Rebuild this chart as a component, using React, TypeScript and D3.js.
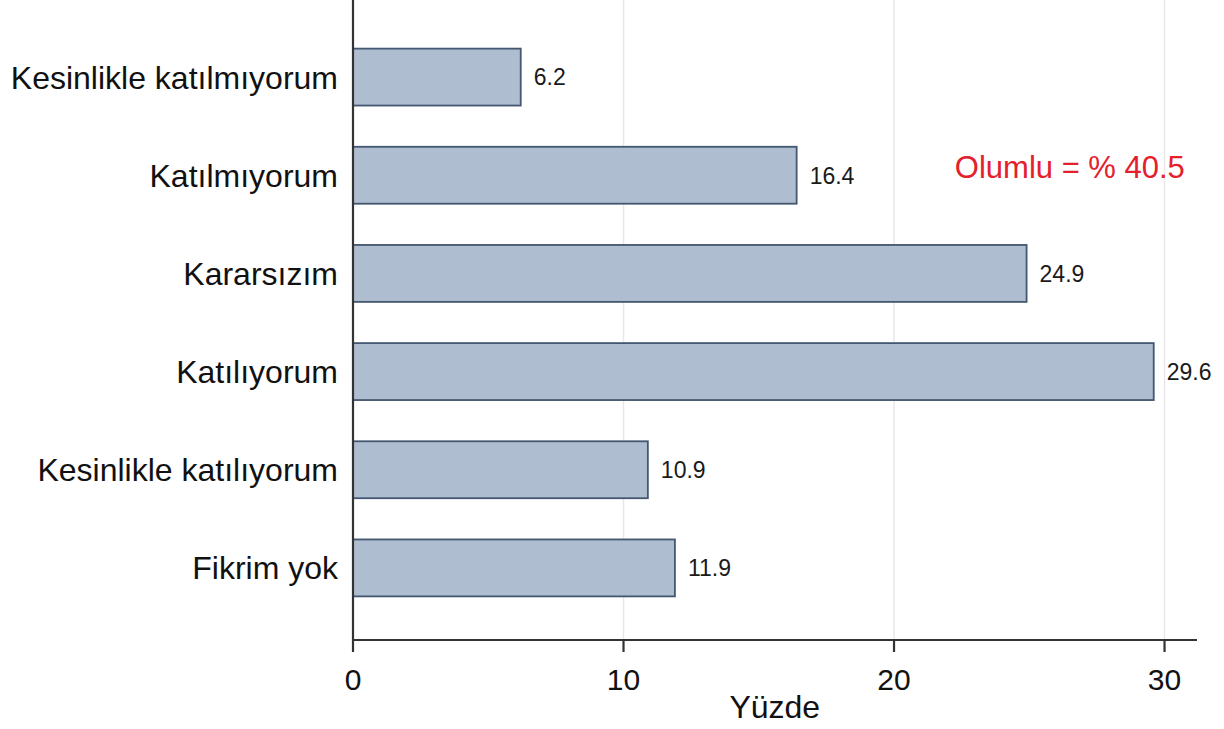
import React from "react";
import * as d3 from "d3";

// survey answers, top to bottom
const categories = [
  "Kesinlikle katılmıyorum",
  "Katılmıyorum",
  "Kararsızım",
  "Katılıyorum",
  "Kesinlikle katılıyorum",
  "Fikrim yok",
];
const percents = [6.2, 16.4, 24.9, 29.6, 10.9, 11.9];
const xTicks = [0, 10, 20, 30];
const xTitle = "Yüzde";
const note = "Olumlu = % 40.5";
const noteAt = { value: 26.5, category: "Katılmıyorum" };

const width = 1224;
const height = 729;
const margin = { top: 28, right: 27, bottom: 89, left: 353 };
const font = "'Liberation Sans', Arial, sans-serif";

const App = () => {
  const axisY = height - margin.bottom;

  // x scale: 0..31.2 percent over the plot width
  const x = d3.scaleLinear().domain([0, 31.2]).range([margin.left, width - margin.right]);

  // band scale for the bars
  const y = d3
    .scaleBand<string>()
    .domain(categories)
    .range([margin.top, axisY - 23])
    .paddingInner(0.42)
    .paddingOuter(0.21);

  return (
    <svg
      width={width}
      height={height}
      style={{ position: "absolute", left: 0, top: 0, background: "#fff" }}
      fontFamily={font}
    >
      {/* vertical grid lines */}
      {xTicks.filter((t) => t > 0).map((t) => (
        <line key={t} x1={x(t)} x2={x(t)} y1={0} y2={axisY} stroke="#e8e8e8" strokeWidth={1.5} />
      ))}

      {/* bars */}
      {categories.map((c, i) => (
        <g key={c}>
          <rect
            x={x(0)}
            y={y(c)}
            width={x(percents[i]) - x(0)}
            height={y.bandwidth()}
            fill="#aebdcf"
            stroke="#435770"
            strokeWidth={1.8}
          />
          <text
            x={x(percents[i]) + 13}
            y={(y(c) ?? 0) + y.bandwidth() / 2}
            dy="0.36em"
            fontSize={23}
            fill="#1a1a1a"
          >
            {percents[i]}
          </text>
          <text
            x={margin.left - 15}
            y={(y(c) ?? 0) + y.bandwidth() / 2}
            dy="0.36em"
            textAnchor="end"
            fontSize={32}
            fill="#111"
          >
            {c}
          </text>
        </g>
      ))}

      {/* axes */}
      <line x1={x(0)} x2={x(0)} y1={0} y2={axisY} stroke="#333" strokeWidth={2.2} />
      <line x1={x(0) - 1} x2={width - margin.right} y1={axisY} y2={axisY} stroke="#333" strokeWidth={2.2} />
      {xTicks.map((t) => (
        <g key={t}>
          <line x1={x(t)} x2={x(t)} y1={axisY} y2={axisY + 12} stroke="#333" strokeWidth={2.2} />
          <text x={x(t)} y={axisY + 50} textAnchor="middle" fontSize={30} fill="#111">
            {t}
          </text>
        </g>
      ))}
      <text x={(x(0) + x(30)) / 2 + 16} y={axisY + 78} textAnchor="middle" fontSize={32} fill="#111">
        {xTitle}
      </text>

      {/* annotation */}
      <text
        x={x(noteAt.value)}
        y={(y(noteAt.category) ?? 0) + y.bandwidth() / 2}
        dy="0.1em"
        textAnchor="middle"
        fontSize={31}
        fill="#e3202c"
      >
        {note}
      </text>
    </svg>
  );
};

export default App;
